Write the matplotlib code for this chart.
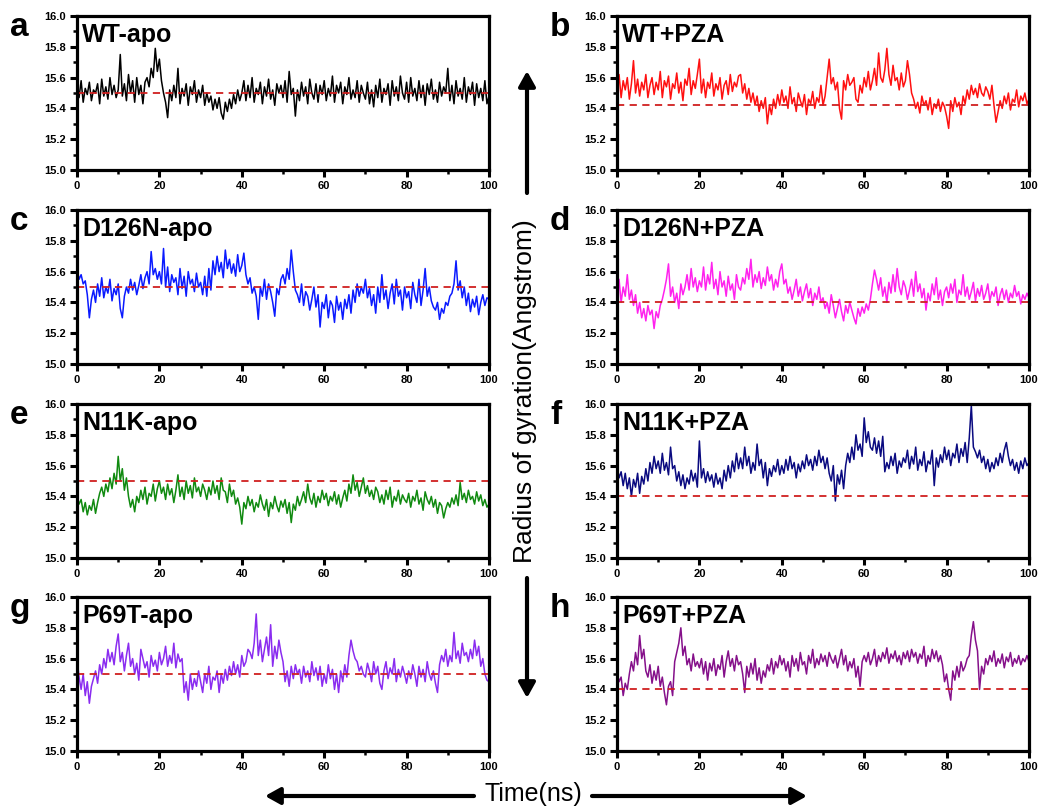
import numpy as np
import matplotlib.pyplot as plt
from matplotlib.patches import FancyArrowPatch
from matplotlib.ticker import MultipleLocator

plt.rcParams["font.family"] = ["Liberation Sans", "DejaVu Sans"]

# Rg sampled every 0.5 ns over 100 ns, stored as hundredths of an Angstrom above 15 A
time_ns = np.linspace(0, 100, 201)

wt_apo = [
    55, 47, 58, 44, 53, 49, 57, 45, 52, 50, 56, 43, 59, 48, 54, 46, 60, 49, 55, 47,
    52, 75, 48, 56, 45, 62, 50, 58, 44, 60, 49, 55, 43, 57, 60, 54, 66, 60, 79, 64,
    72, 58, 50, 44, 34, 52, 45, 55, 47, 66, 43, 53, 48, 56, 42, 54, 49, 58, 44, 52,
    47, 55, 42, 50, 44, 48, 39, 46, 40, 47, 37, 33, 44, 38, 46, 40, 49, 43, 52, 45,
    50, 58, 45, 55, 47, 60, 44, 53, 49, 57, 43, 54, 48, 59, 46, 52, 42, 56, 50, 55,
    47, 58, 44, 64, 49, 53, 35, 52, 45, 57, 48, 54, 43, 59, 50, 46, 56, 44, 55, 49,
    58, 45, 53, 48, 61, 44, 55, 50, 57, 43, 54, 49, 60, 46, 52, 47, 58, 44, 55, 50,
    46, 57, 43, 52, 41, 55, 47, 59, 44, 53, 49, 56, 42, 58, 48, 54, 45, 61, 50, 46,
    57, 44, 60, 48, 53, 45, 58, 47, 55, 42, 56, 49, 59, 46, 52, 44, 57, 48, 54, 50,
    66, 45, 55, 43, 58, 48, 53, 46, 60, 44, 54, 49, 57, 42, 56, 47, 53, 45, 58, 43,
    48,
]
wt_pza = [
    50, 62, 47, 58, 52, 60, 46, 56, 71, 50, 59, 48, 57, 52, 62, 47, 55, 60, 49, 57,
    52, 64, 47, 58, 54, 61, 46, 56, 53, 63, 50, 57, 45, 59, 55, 66, 49, 58, 53, 62,
    72, 50, 59, 47, 57, 53, 63, 48, 56, 52, 60, 46, 55, 58, 49, 62, 51, 57, 54, 61,
    62, 50, 56, 46, 53, 44, 50, 42, 48, 38, 45, 40, 47, 30, 42, 36, 46, 40, 49, 42,
    52, 44, 48, 40, 54, 43, 47, 38, 50, 45, 41, 49, 36, 46, 43, 51, 40, 47, 44, 55,
    42, 48, 60, 72, 56, 60, 52, 57, 40, 33, 58, 52, 62, 55, 57, 60, 46, 44, 55, 50,
    60, 54, 64, 52, 58, 66, 55, 76, 60, 57, 65, 79, 62, 55, 68, 58, 60, 52, 63, 54,
    58, 71, 62, 50, 46, 40, 44, 37, 48, 42, 45, 39, 47, 36, 43, 40, 46, 38, 44, 41,
    35, 27, 45, 38, 47, 41, 44, 36, 48, 43, 52, 46, 55, 49, 53, 47, 56, 50, 48, 54,
    51, 46, 55, 42, 31, 38, 45, 40, 48, 43, 50, 39, 46, 44, 52, 41, 48, 45, 50, 43,
    46,
]
d126n_apo = [
    62, 55, 58, 52, 54, 45, 30, 42, 48, 40, 52, 44, 56, 43, 50, 46, 55, 41, 49, 45,
    52, 36, 30, 44, 50, 46, 55, 48, 53, 45, 51, 58, 49, 56, 60, 52, 73, 58, 62, 55,
    60, 52, 75, 50, 63, 47, 58, 53, 56, 45, 62, 49, 57, 44, 60, 52, 55, 47, 59, 50,
    53, 45, 57, 44, 62, 48, 67, 58, 70, 60, 66, 56, 74, 62, 68, 59, 65, 57, 71, 60,
    64, 72, 58, 52, 56, 46, 50, 44, 29, 50, 44, 55, 42, 52, 47, 40, 31, 49, 45, 55,
    58, 52, 62, 55, 74, 60, 48, 45, 40, 52, 38, 47, 44, 35, 42, 50, 37, 45, 24, 40,
    36, 45, 30, 41, 38, 27, 44, 35, 40, 29, 42, 36, 45, 33, 48, 40, 52, 44, 50, 46,
    55, 43, 49, 38, 45, 33, 50, 40, 58, 42, 48, 36, 46, 52, 39, 55, 44, 48, 35, 50,
    43, 47, 36, 53, 45, 40, 55, 38, 48, 62, 44, 50, 41, 37, 35, 40, 29, 36, 33, 40,
    38, 44, 46, 52, 67, 48, 54, 43, 50, 38, 46, 34, 42, 37, 44, 32, 40, 45, 38, 43,
    42,
]
d126n_pza = [
    46, 55, 40, 50, 44, 58, 42, 48, 38, 45, 33, 40, 30, 36, 28, 38, 32, 35, 23, 34,
    30, 38, 42, 48, 55, 65, 44, 50, 40, 46, 36, 52, 45, 50, 58, 48, 62, 50, 56, 47,
    54, 50, 63, 48, 58, 52, 66, 49, 55, 45, 60, 50, 54, 44, 57, 48, 52, 42, 58, 50,
    48, 56, 52, 62, 55, 68, 50, 58, 53, 60, 49, 56, 51, 63, 54, 58, 48, 55, 50, 60,
    65, 52, 55, 46, 50, 42, 48, 55, 44, 50, 41, 47, 52, 43, 49, 38, 46, 42, 50, 40,
    43, 36, 40, 33, 45, 38, 30, 36, 42, 34, 28, 38, 33, 40, 35, 30, 26, 36, 31, 37,
    33, 39, 35, 42, 52, 61, 55, 48, 56, 44, 50, 40, 53, 46, 58, 47, 62, 50, 45, 54,
    50, 42, 48, 55, 44, 60, 47, 52, 43, 49, 35, 46, 41, 52, 45, 56, 42, 48, 38, 47,
    50, 43, 52, 46, 55, 40, 48, 45, 58, 44, 50, 42, 47, 53, 41, 49, 44, 51, 42, 46,
    52, 41, 47, 44, 50, 38, 45, 49, 42, 48, 40, 46, 43, 51, 44, 47, 39, 45, 42, 46,
    43,
]
n11k_apo = [
    40, 35, 38, 30, 36, 28, 34, 31, 38, 29, 36, 42, 46, 40, 48, 43, 52, 45, 55, 48,
    66, 50, 58, 44, 52, 40, 33, 38, 30, 40, 36, 44, 38, 46, 35, 42, 40, 48, 37, 45,
    50, 42, 46, 38, 48, 41, 45, 36, 44, 54, 40, 46, 38, 50, 42, 47, 39, 52, 43, 46,
    40, 48, 44, 38, 46, 41, 50, 42, 47, 38, 52, 44, 43, 36, 48, 40, 44, 35, 39, 33,
    22, 36, 32, 40, 34, 38, 30, 36, 33, 41, 35, 31, 38, 27, 36, 32, 40, 34, 30, 37,
    33, 38, 29, 36, 23, 35, 31, 40, 34, 38, 43, 36, 48, 39, 35, 42, 33, 40, 36, 44,
    38, 42, 34, 40, 37, 43, 35, 41, 33, 39, 44, 37, 48, 42, 54, 44, 49, 40, 46, 52,
    42, 47, 40, 44, 38, 46, 43, 36, 41, 35, 44, 38, 46, 33, 40, 37, 44, 35, 41, 38,
    36, 42, 33, 40, 37, 44, 35, 39, 31, 43, 38, 35, 40, 33, 38, 29, 36, 34, 26, 32,
    36, 33, 39, 35, 41, 34, 49, 38, 42, 36, 44, 38, 40, 35, 43, 37, 41, 34, 38, 33,
    35,
]
n11k_pza = [
    60, 52, 56, 47, 55, 45, 52, 40, 51, 46, 55, 42, 53, 48, 58, 50, 62, 55, 66, 58,
    63, 55, 68, 57, 62, 54, 72, 58, 60, 50, 56, 47, 54, 45, 52, 48, 57, 50, 55, 46,
    76, 52, 58, 49, 56, 50, 54, 46, 55, 48, 52, 45, 57, 50, 60, 52, 63, 56, 68, 58,
    65, 58, 72, 60, 66, 55, 62, 57, 74, 60, 64, 52, 62, 47, 58, 53, 60, 56, 64, 54,
    60, 55, 64, 57, 66, 58, 62, 52, 61, 56, 63, 58, 67, 60, 64, 57, 66, 60, 70, 62,
    66, 58, 65, 55, 50, 60, 37, 54, 48, 57, 45, 60, 68, 62, 72, 64, 80, 70, 74, 66,
    91, 75, 82, 72, 70, 78, 68, 76, 66, 79, 56, 62, 58, 66, 60, 68, 55, 63, 59, 65,
    62, 70, 58, 66, 61, 72, 57, 64, 60, 69, 56, 63, 61, 70, 47, 65, 59, 67, 62, 72,
    64, 70, 60, 68, 65, 74, 62, 71, 66, 75, 62, 78, 99, 72, 69, 65, 70, 62, 66, 58,
    64, 56, 62, 58, 65, 60, 68, 62, 70, 75, 66, 60, 64, 57, 62, 55, 63, 58, 65, 60,
    62,
]
p69t_apo = [
    60, 48, 40, 50, 36, 45, 31, 42, 47, 52, 44, 56, 50, 60, 54, 66, 58, 64, 56, 68,
    76, 58, 64, 52, 62, 70, 55, 60, 50, 57, 46, 66, 60, 54, 58, 48, 62, 55, 59, 52,
    64, 56, 60, 68, 55, 62, 57, 70, 54, 63, 58, 60, 38, 45, 33, 50, 40, 47, 42, 52,
    45, 38, 50, 44, 55, 40, 48, 46, 52, 38, 50, 44, 53, 46, 55, 49, 58, 50, 56, 48,
    62, 55, 58, 66, 64, 60, 70, 89, 62, 72, 58, 66, 74, 62, 82, 55, 68, 60, 72, 64,
    58, 45, 52, 42, 55, 47, 56, 50, 53, 44, 55, 48, 52, 45, 58, 49, 54, 46, 55, 42,
    50, 44, 56, 47, 53, 40, 50, 38, 52, 45, 56, 48, 62, 72, 65, 60, 58, 52, 55, 50,
    48, 57, 52, 45, 58, 50, 55, 44, 40, 52, 58, 47, 54, 50, 60, 45, 53, 48, 55, 50,
    44, 52, 47, 56, 50, 42, 55, 48, 53, 45, 58, 50, 46, 52, 44, 38, 56, 62, 58, 66,
    55, 62, 58, 77, 60, 65, 57, 70, 62, 64, 58, 66, 60, 72, 62, 68, 55, 60, 50, 46,
    45,
]
p69t_pza = [
    52, 45, 48, 36, 44, 40, 50, 58, 52, 64, 56, 75, 60, 66, 52, 48, 56, 44, 52, 46,
    55, 42, 48, 38, 30, 42, 45, 36, 58, 64, 70, 80, 62, 68, 56, 60, 52, 63, 55, 58,
    54, 60, 50, 58, 46, 57, 52, 60, 49, 56, 53, 62, 48, 58, 65, 55, 60, 52, 62, 56,
    58, 50, 38, 55, 48, 57, 50, 60, 46, 54, 44, 52, 48, 56, 52, 60, 50, 58, 54, 62,
    56, 60, 52, 58, 48, 62, 55, 60, 52, 64, 56, 58, 50, 62, 57, 66, 54, 60, 56, 63,
    58, 62, 55, 64, 60, 57, 62, 54, 60, 66, 56, 62, 52, 58, 54, 60, 48, 55, 42, 58,
    62, 58, 64, 56, 60, 66, 55, 62, 58, 64, 60, 67, 57, 63, 60, 65, 58, 62, 56, 64,
    60, 65, 58, 66, 61, 64, 57, 63, 60, 68, 55, 62, 58, 66, 60, 65, 58, 62, 56, 45,
    50, 40, 33, 52, 46, 55, 48, 58, 52, 55, 60, 62, 75, 84, 72, 65, 40, 55, 50, 60,
    56, 62, 58, 65, 55, 60, 57, 63, 54, 61, 58, 64, 55, 60, 57, 62, 56, 60, 58, 62,
    58,
]

panel_letters = ["a", "b", "c", "d", "e", "f", "g", "h"]
panel_titles = ["WT-apo", "WT+PZA", "D126N-apo", "D126N+PZA",
                "N11K-apo", "N11K+PZA", "P69T-apo", "P69T+PZA"]
series = [wt_apo, wt_pza, d126n_apo, d126n_pza,
          n11k_apo, n11k_pza, p69t_apo, p69t_pza]
ref_levels = [15.5, 15.42, 15.5, 15.4, 15.5, 15.4, 15.5, 15.4]
colors = ["#000000", "#ff1010", "#0a1aff", "#ff22ee",
          "#108a10", "#0a0a80", "#8a2cf0", "#85108a"]

W, H = 1041, 806
fig = plt.figure(figsize=(W / 100, H / 100), dpi=100)

col_left = [77, 617]
row_bottom = [170, 364, 558, 751]
ax_w, ax_h = 412, 154

for i in range(8):
    col = i % 2
    row = i // 2
    ax = fig.add_axes([col_left[col] / W, 1 - row_bottom[row] / H, ax_w / W, ax_h / H])
    rg = 15 + np.array(series[i]) / 100
    ax.plot(time_ns, rg, color=colors[i], lw=1.1)
    ax.axhline(ref_levels[i], color="#d02020", lw=1.3, ls=(0, (4, 3)))

    ax.set_xlim(0, 100)
    ax.set_ylim(15.0, 16.0)
    ax.xaxis.set_major_locator(MultipleLocator(20))
    ax.xaxis.set_minor_locator(MultipleLocator(10))
    ax.yaxis.set_major_locator(MultipleLocator(0.2))
    ax.yaxis.set_minor_locator(MultipleLocator(0.1))
    ax.yaxis.set_major_formatter("{x:.1f}")
    ax.tick_params(which="major", direction="out", length=5, width=2.2,
                   labelsize=8, pad=3)
    ax.tick_params(which="minor", direction="out", length=3, width=1.8)
    for lab in ax.get_xticklabels() + ax.get_yticklabels():
        lab.set_fontweight("bold")
    for sp in ax.spines.values():
        sp.set_linewidth(2.3)

    ax.text(0.012, 0.83, panel_titles[i], transform=ax.transAxes,
            fontsize=18, fontweight="bold", ha="left", va="baseline")
    fig.text((col_left[col] - 67) / W, 1 - (row_bottom[row] - ax_h + 20) / H,
             panel_letters[i], fontsize=24, fontweight="bold",
             ha="left", va="baseline")

fig.text(525 / W, 1 - 391 / H, "Radius of gyration(Angstrom)",
         rotation=90, fontsize=19, ha="center", va="center")
fig.text(533 / W, 1 - 794 / H, "Time(ns)", fontsize=18, ha="center", va="center")


def draw_arrow(x0, y0, x1, y1):
    fig.add_artist(FancyArrowPatch(
        (x0 / W, 1 - y0 / H), (x1 / W, 1 - y1 / H),
        transform=fig.transFigure, arrowstyle="-|>,head_length=9,head_width=5",
        mutation_scale=1, lw=3, color="black", shrinkA=0, shrinkB=0))


draw_arrow(527, 193, 527, 71)
draw_arrow(527, 578, 527, 698)
draw_arrow(474, 796, 265, 796)
draw_arrow(592, 796, 807, 796)

fig.savefig("out.png", dpi=100)
